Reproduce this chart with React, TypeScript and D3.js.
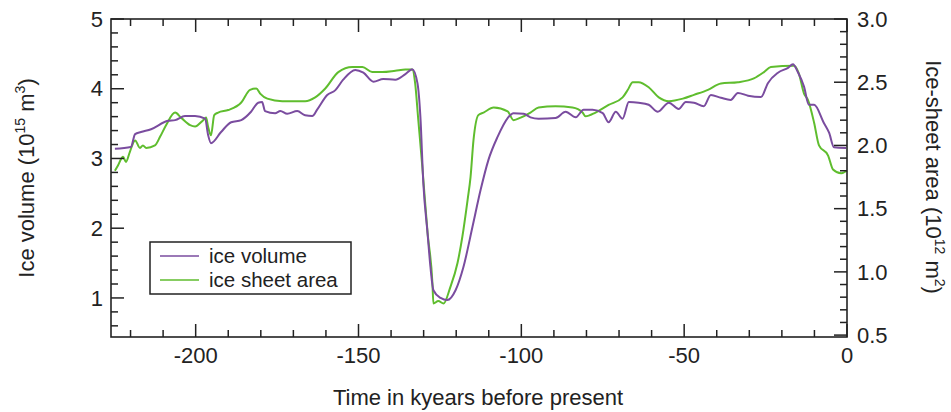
import React from "react";
import * as d3 from "d3";

// Time in kyears before present
const volTime = [-224.8,-219.9,-218.6,-216.8,-213.7,-208.5,-206.3,-203.3,-200.2,-197.1,-196.2,-195.3,-192.2,-189.1,-186.0,-183.0,-180.8,-179.6,-178.7,-175.6,-174.0,-171.9,-168.8,-166.4,-164.2,-162.7,-159.6,-157.1,-154.7,-151.0,-148.5,-145.4,-142.4,-138.7,-135.6,-133.5,-131.9,-131.0,-130.1,-128.8,-127.9,-127.0,-124.8,-122.7,-120.2,-117.8,-115.0,-112.5,-110.1,-107.3,-104.2,-102.4,-99.3,-97.2,-94.7,-89.5,-86.4,-83.3,-80.9,-78.1,-75.0,-73.2,-71.0,-68.9,-67.0,-64.0,-60.9,-58.1,-54.7,-51.7,-49.5,-47.0,-44.0,-41.8,-38.7,-35.7,-33.5,-30.4,-26.4,-24.3,-21.2,-18.1,-16.6,-15.1,-13.2,-11.7,-10.1,-7.1,-5.5,-4.0,-0.3];
// Ice volume (10^15 m^3)
const volValue = [3.14,3.165,3.35,3.38,3.42,3.54,3.55,3.61,3.61,3.57,3.34,3.22,3.38,3.52,3.55,3.67,3.80,3.81,3.68,3.65,3.68,3.64,3.68,3.62,3.61,3.70,3.91,3.98,4.13,4.27,4.23,4.10,4.14,4.13,4.21,4.28,4.08,3.60,2.65,1.93,1.44,1.11,1.00,0.97,1.11,1.44,2.02,2.55,2.98,3.31,3.58,3.65,3.64,3.59,3.57,3.58,3.67,3.59,3.70,3.70,3.65,3.52,3.67,3.57,3.81,3.80,3.77,3.67,3.80,3.71,3.81,3.80,3.75,3.91,3.87,3.84,3.94,3.90,3.88,4.08,4.23,4.30,4.35,4.24,4.03,3.77,3.77,3.51,3.37,3.16,3.15];

const areaTime = [-224.8,-223.9,-222.3,-221.4,-220.2,-218.6,-217.1,-216.2,-215.2,-212.5,-210.9,-209.1,-206.3,-204.5,-201.7,-200.2,-197.7,-196.8,-196.2,-195.3,-194.3,-193.1,-190.0,-186.0,-183.3,-181.4,-180.2,-178.0,-173.4,-166.4,-163.3,-160.2,-156.2,-151.9,-148.8,-145.8,-142.7,-138.7,-135.6,-133.5,-132.6,-131.7,-130.4,-128.8,-127.3,-127.0,-125.5,-123.9,-121.8,-119.6,-118.1,-116.5,-115.6,-114.7,-113.2,-111.6,-108.5,-104.2,-102.4,-100.2,-97.2,-94.7,-89.5,-84.3,-81.2,-80.3,-77.2,-73.2,-68.9,-67.3,-65.8,-64.0,-60.9,-57.8,-54.7,-50.4,-47.0,-42.7,-38.7,-33.5,-28.6,-25.5,-23.4,-16.3,-14.8,-13.2,-12.0,-10.1,-8.6,-5.8,-4.3,-1.8,0];
// Ice-sheet area (10^12 m^2)
const areaValue = [1.80,1.84,1.91,1.87,1.95,2.04,1.98,2.00,1.98,2.00,2.07,2.16,2.26,2.22,2.16,2.15,2.20,2.22,2.15,2.08,2.24,2.26,2.28,2.34,2.44,2.45,2.41,2.37,2.35,2.35,2.38,2.45,2.58,2.62,2.62,2.58,2.58,2.59,2.60,2.60,2.49,2.22,1.83,1.31,0.91,0.75,0.77,0.75,0.88,1.07,1.28,1.57,1.75,2.04,2.24,2.26,2.30,2.27,2.20,2.22,2.26,2.30,2.31,2.30,2.26,2.23,2.26,2.32,2.38,2.44,2.50,2.50,2.46,2.38,2.35,2.37,2.40,2.44,2.49,2.50,2.53,2.58,2.62,2.63,2.57,2.41,2.36,2.18,2.00,1.92,1.81,1.78,1.80];

const xTicksMajor = [-200, -150, -100, -50, 0];
const xTickLabels = ["-200", "-150", "-100", "-50", "0"];
const yLeftMajor = [1, 2, 3, 4, 5];
const yRightMajor = [0.5, 1.0, 1.5, 2.0, 2.5, 3.0];
const yRightLabels = ["0.5", "1.0", "1.5", "2.0", "2.5", "3.0"];
const seriesNames = ["ice volume", "ice sheet area"];

const PURPLE = "#7a4c9f";
const GREEN = "#5fbd2e";
const FRAME = "#222";
const FONT = "'Liberation Sans', Arial, Helvetica, sans-serif";

export default function App() {
  const W = 951, H = 412;
  const L = 111, R = 847, T = 19, B = 337;
  const x = d3.scaleLinear().domain([-226, 0]).range([L, R]);
  const yL = d3.scaleLinear().domain([0.44, 5]).range([B, T]);
  const yR = d3.scaleLinear().domain([0.485, 3.0]).range([B, T]);

  const volData = volTime.map((t, i) => [t, volValue[i]] as [number, number]);
  const areaData = areaTime.map((t, i) => [t, areaValue[i]] as [number, number]);
  const volLine = d3.line<[number, number]>().x(d => x(d[0])).y(d => yL(d[1])).curve(d3.curveMonotoneX);
  const areaLine = d3.line<[number, number]>().x(d => x(d[0])).y(d => yR(d[1])).curve(d3.curveMonotoneX);

  const xMinor = d3.range(-220, 1, 10).filter(v => v % 50 !== 0);
  const yLMinor = d3.range(0.6, 5.0, 0.2).map(v => +v.toFixed(2)).filter(v => Math.abs(v - Math.round(v)) > 1e-6);
  const yRMinor = d3.range(0.6, 3.0, 0.1).map(v => +v.toFixed(2)).filter(v => Math.abs(v * 2 - Math.round(v * 2)) > 1e-6);

  const MAJ = 13, MIN = 7;
  const fs = 22;
  const sup = 14;
  const legFs = 20.5;

  return (
    <svg width={W} height={H} style={{ position: "absolute", left: 0, top: 0, background: "#fff" }} fontFamily={FONT}>
      <rect x={0} y={0} width={W} height={H} fill="#fff" />
      {/* data lines */}
      <path d={areaLine(areaData) || ""} fill="none" stroke={GREEN} strokeWidth={2} strokeLinejoin="round" />
      <path d={volLine(volData) || ""} fill="none" stroke={PURPLE} strokeWidth={2} strokeLinejoin="round" />

      {/* frame */}
      <rect x={L} y={T} width={R - L} height={B - T} fill="none" stroke={FRAME} strokeWidth={1.6} />

      {/* x ticks bottom and top */}
      {xTicksMajor.map(v => (
        <g key={"xm" + v}>
          <line x1={x(v)} x2={x(v)} y1={B} y2={B - MAJ} stroke={FRAME} strokeWidth={1.5} />
          <line x1={x(v)} x2={x(v)} y1={T} y2={T + MAJ} stroke={FRAME} strokeWidth={1.5} />
        </g>
      ))}
      {xMinor.map(v => (
        <g key={"xn" + v}>
          <line x1={x(v)} x2={x(v)} y1={B} y2={B - MIN} stroke={FRAME} strokeWidth={1.5} />
          <line x1={x(v)} x2={x(v)} y1={T} y2={T + MIN} stroke={FRAME} strokeWidth={1.5} />
        </g>
      ))}
      {xTicksMajor.map((v, i) => (
        <text key={"xl" + v} x={x(v)} y={363} textAnchor="middle" fontSize={fs} fill="#222">{xTickLabels[i]}</text>
      ))}

      {/* left y ticks */}
      {yLeftMajor.map(v => (
        <g key={"yl" + v}>
          <line x1={L} x2={L + MAJ} y1={yL(v)} y2={yL(v)} stroke={FRAME} strokeWidth={1.5} />
          <text x={103} y={yL(v)} dy="0.35em" textAnchor="end" fontSize={fs} fill="#222">{v}</text>
        </g>
      ))}
      {yLMinor.map(v => (
        <line key={"yln" + v} x1={L} x2={L + MIN} y1={yL(v)} y2={yL(v)} stroke={FRAME} strokeWidth={1.5} />
      ))}

      {/* right y ticks */}
      {yRightMajor.map((v, i) => (
        <g key={"yr" + v}>
          <line x1={R} x2={R - MAJ} y1={yR(v)} y2={yR(v)} stroke={FRAME} strokeWidth={1.5} />
          <text x={857} y={yR(v)} dy="0.35em" textAnchor="start" fontSize={fs} fill="#222">{yRightLabels[i]}</text>
        </g>
      ))}
      {yRMinor.map(v => (
        <line key={"yrn" + v} x1={R} x2={R - MIN} y1={yR(v)} y2={yR(v)} stroke={FRAME} strokeWidth={1.5} />
      ))}

      {/* axis titles */}
      <text x={478} y={405} textAnchor="middle" fontSize={fs} fill="#222">Time in kyears before present</text>
      <text transform="translate(34,178) rotate(-90)" textAnchor="middle" fontSize={fs} fill="#222">
        Ice volume (10<tspan dy="-9" fontSize={sup}>15</tspan><tspan dy="9"> m</tspan><tspan dy="-9" fontSize={sup}>3</tspan><tspan dy="9">)</tspan>
      </text>
      <text transform="translate(926,177) rotate(90)" textAnchor="middle" fontSize={fs} fill="#222">
        Ice-sheet area (10<tspan dy="-9" fontSize={sup}>12</tspan><tspan dy="9"> m</tspan><tspan dy="-9" fontSize={sup}>2</tspan><tspan dy="9">)</tspan>
      </text>

      {/* legend */}
      <rect x={150} y={242} width={201} height={52} fill="#fff" stroke={FRAME} strokeWidth={1.5} />
      {seriesNames.map((n, i) => (
        <g key={n}>
          <line x1={160} x2={199} y1={256 + i * 24} y2={256 + i * 24} stroke={i === 0 ? PURPLE : GREEN} strokeWidth={1.6} />
          <text x={209} y={256 + i * 24} dy="0.35em" fontSize={legFs} fill="#222">{n}</text>
        </g>
      ))}
    </svg>
  );
}
